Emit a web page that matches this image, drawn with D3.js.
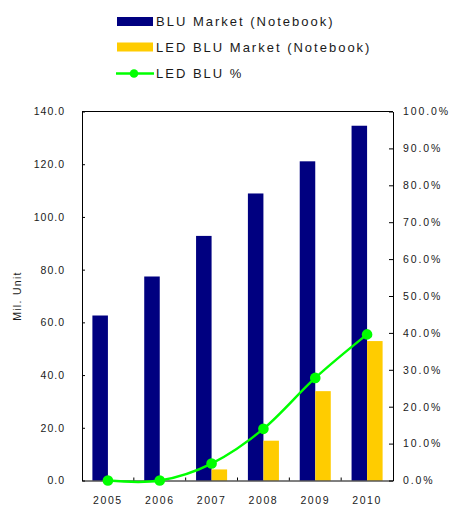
<!DOCTYPE html>
<html>
<head>
<meta charset="utf-8">
<script src="https://cdn.jsdelivr.net/npm/d3@7"></script>
<style>
  html, body { margin: 0; padding: 0; background: #fff; }
  svg { display: block; font-family: "Liberation Sans", Arial, sans-serif; }
</style>
</head>
<body>
<div id="chart"></div>
<script>
// Notebook backlight unit shipments (million units) and LED share
const years = ["2005", "2006", "2007", "2008", "2009", "2010"];
const bluMarket = [62.6, 77.4, 92.8, 108.9, 121.1, 134.6];
const ledBluMarket = [0, 0, 4.2, 15.1, 33.9, 52.9];
const ledBluPct = [0, 0, 4.6, 14.0, 27.8, 39.6];
const seriesNames = ["BLU Market (Notebook)", "LED BLU Market (Notebook)", "LED BLU %"];
const leftTicks = [0, 20, 40, 60, 80, 100, 120, 140];
const rightTicks = [0, 10, 20, 30, 40, 50, 60, 70, 80, 90, 100];

const W = 453, H = 505;
const plot = { left: 82, right: 393, top: 111.5, bottom: 480.5 };
const colors = { blu: "#000080", led: "#FFCC00", pct: "#00FF00" };
const textColor = "#1a1a1a";

const svg = d3.select("#chart").append("svg").attr("width", W).attr("height", H);

const x = d3.scaleBand().domain(years).range([plot.left, plot.right]).paddingInner(0).paddingOuter(0);
const xSub = d3.scaleBand().domain(["blu", "led"]).range([0, x.bandwidth()]).paddingInner(0).paddingOuter(0.67);
const yL = d3.scaleLinear().domain([0, 140]).range([plot.bottom, plot.top]);
const yR = d3.scaleLinear().domain([0, 100]).range([plot.bottom, plot.top]);

// Bars
const groups = svg.append("g").selectAll("g")
  .data(years.map((yr, i) => ({ yr, blu: bluMarket[i], led: ledBluMarket[i] })))
  .join("g")
  .attr("transform", d => `translate(${x(d.yr)},0)`);

groups.append("rect")
  .attr("x", xSub("blu")).attr("width", xSub.bandwidth())
  .attr("y", d => yL(d.blu)).attr("height", d => yL(0) - yL(d.blu))
  .attr("fill", colors.blu);

groups.append("rect")
  .attr("x", xSub("led")).attr("width", xSub.bandwidth())
  .attr("y", d => yL(d.led)).attr("height", d => yL(0) - yL(d.led))
  .attr("fill", colors.led);

// Frame: top edge
svg.append("line")
  .attr("x1", plot.left).attr("x2", plot.right)
  .attr("y1", plot.top).attr("y2", plot.top)
  .attr("stroke", "#000").attr("stroke-width", 1);

// Left axis
const axL = svg.append("g")
  .attr("transform", `translate(${plot.left},0)`)
  .call(d3.axisLeft(yL).tickValues(leftTicks).tickFormat(d3.format(".1f"))
    .tickSizeInner(-3).tickSizeOuter(0).tickPadding(17));
axL.selectAll("text").attr("font-size", 10.5).attr("letter-spacing", 1).attr("fill", textColor)
  .attr("font-family", "'Liberation Sans', Arial, sans-serif");

// Right axis
const axR = svg.append("g")
  .attr("transform", `translate(${plot.right},0)`)
  .call(d3.axisRight(yR).tickValues(rightTicks).tickFormat(d => d.toFixed(1) + "%")
    .tickSizeInner(-4).tickSizeOuter(0).tickPadding(10));
axR.selectAll("text").attr("font-size", 10.5).attr("letter-spacing", 1.9).attr("fill", textColor)
  .attr("font-family", "'Liberation Sans', Arial, sans-serif");

// Bottom axis: labels centred on categories, small ticks at category boundaries
const axB = svg.append("g")
  .attr("transform", `translate(0,${plot.bottom})`)
  .call(d3.axisBottom(x).tickSizeInner(0).tickSizeOuter(0).tickPadding(16));
axB.selectAll("text").attr("font-size", 10.5).attr("letter-spacing", 1.6).attr("fill", textColor)
  .attr("font-family", "'Liberation Sans', Arial, sans-serif");
axB.selectAll(".boundary")
  .data(years.slice(1))
  .join("line")
  .attr("class", "boundary")
  .attr("x1", d => x(d)).attr("x2", d => x(d))
  .attr("y1", 0).attr("y2", -3)
  .attr("stroke", "#000");

[axL, axR, axB].forEach(a => a.selectAll("path, line").attr("stroke", "#000"));

// Left axis title
svg.append("text")
  .attr("transform", `translate(21,${(plot.top + plot.bottom) / 2}) rotate(-90)`)
  .attr("text-anchor", "middle")
  .attr("font-size", 10.5).attr("letter-spacing", 1.3)
  .attr("fill", textColor)
  .text("Mil. Unit");

// LED share line with markers
const cx = d => x(d) + x.bandwidth() / 2;
const lineGen = d3.line()
  .x((d, i) => cx(years[i]))
  .y(d => yR(d))
  .curve(d3.curveCardinal.tension(0));

svg.append("path")
  .datum(ledBluPct)
  .attr("d", lineGen)
  .attr("fill", "none")
  .attr("stroke", colors.pct)
  .attr("stroke-width", 2.5);

svg.append("g").selectAll("circle")
  .data(ledBluPct)
  .join("circle")
  .attr("cx", (d, i) => cx(years[i]))
  .attr("cy", d => yR(d))
  .attr("r", 5.3)
  .attr("fill", colors.pct);

// Legend
const legend = svg.append("g");
const legendRows = [
  { name: seriesNames[0], type: "rect", color: colors.blu, y: 21.5 },
  { name: seriesNames[1], type: "rect", color: colors.led, y: 47 },
  { name: seriesNames[2], type: "line", color: colors.pct, y: 73.5 }
];
legendRows.forEach(r => {
  if (r.type === "rect") {
    legend.append("rect")
      .attr("x", 117).attr("y", r.y - 4.5).attr("width", 36).attr("height", 9)
      .attr("fill", r.color);
  } else {
    legend.append("line")
      .attr("x1", 116).attr("x2", 154).attr("y1", r.y).attr("y2", r.y)
      .attr("stroke", r.color).attr("stroke-width", 2.5);
    legend.append("circle")
      .attr("cx", 134).attr("cy", r.y).attr("r", 4.3).attr("fill", r.color);
  }
  legend.append("text")
    .attr("x", 156).attr("y", r.y)
    .attr("dy", "0.36em")
    .attr("font-size", 13).attr("letter-spacing", 2)
    .attr("fill", textColor)
    .text(r.name);
});
</script>
</body>
</html>
